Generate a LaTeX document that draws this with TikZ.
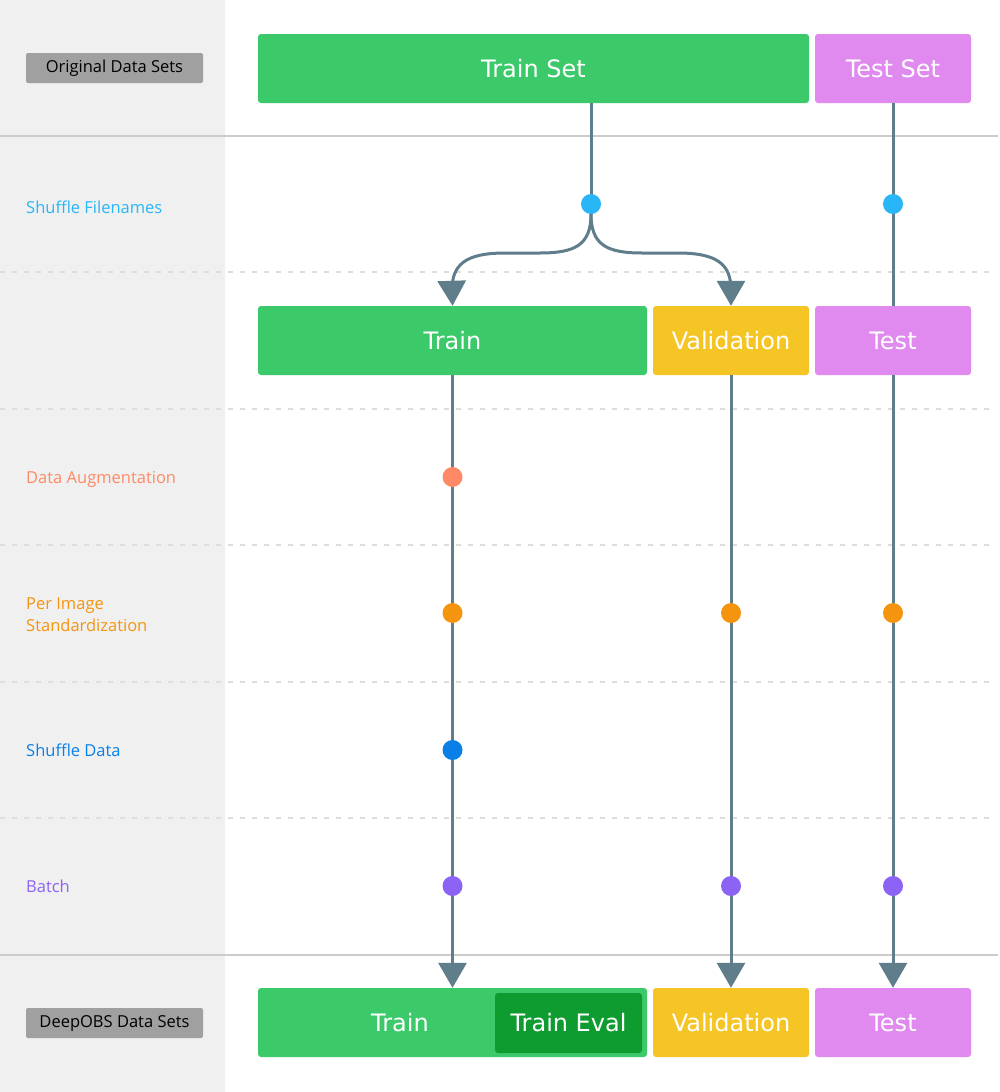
\documentclass[tikz,border=0pt]{standalone}
\usepackage{fontspec}
\setmainfont{DejaVu Sans}
\newfontfamily\labelfont{Open Sans}
\usetikzlibrary{arrows.meta}

\definecolor{setgreen}{HTML}{3CC96A}
\definecolor{evalgreen}{HTML}{0E9C30}
\definecolor{setpink}{HTML}{E08AF0}
\definecolor{setyellow}{HTML}{F5C425}
\definecolor{flowgray}{HTML}{607D8B}
\definecolor{panelgray}{HTML}{F0F0F0}
\definecolor{taggray}{HTML}{A0A0A0}
\definecolor{rulegray}{HTML}{CCCCCC}
\definecolor{dashgray}{HTML}{DDDDDD}
\definecolor{cshuffle}{HTML}{29B6F6}
\definecolor{caugment}{HTML}{FF8A65}
\definecolor{cstandard}{HTML}{F5940F}
\definecolor{cshuffledata}{HTML}{0A7FE8}
\definecolor{cbatch}{HTML}{8C63F5}

\tikzset{
  setbox/.style={rounded corners=3pt, minimum height=69pt, inner sep=0pt,
    text=white, font=\fontsize{24}{28}\selectfont},
  tagbox/.style={fill=taggray, rounded corners=2pt, minimum width=177pt,
    minimum height=30pt, inner sep=0pt, font=\labelfont\fontsize{16.5}{20}\selectfont},
  steplabel/.style={anchor=west, inner sep=0pt, align=left,
    font=\labelfont\fontsize{16.5}{22}\selectfont},
  flow/.style={draw=flowgray, line width=3pt},
  flowarrow/.style={flow, -{Triangle[width=28pt,length=25pt]}},
  stepdot/.style={circle, minimum size=20pt, inner sep=0pt},
  rowrule/.style={draw=rulegray, line width=1.5pt},
  rowdash/.style={draw=dashgray, line width=1.5pt, dash pattern=on 5pt off 7pt}
}

\begin{document}
\begin{tikzpicture}[x=1pt, y=-1pt]

	% --- BACKGROUND ---
	\useasboundingbox (0,0) rectangle (1000,1092);
	\fill[white] (0,0) rectangle (1000,1092);
	\fill[panelgray] (0,0) rectangle (225,1092);

	% --- ROW SEPARATORS ---
	\draw[rowrule] (0,136) -- (998,136);
	\foreach \y in {272, 409, 545, 682, 818}
		\draw[rowdash] (0,\y) -- (996,\y);
	\draw[rowrule] (0,955) -- (998,955);

	% --- ROW LABELS ---
	\node[tagbox] (orig) at (114.5,68) {Original Data Sets};
	\node[steplabel, text=cshuffle] (lshuffle) at (26,207) {Shuffle Filenames};
	\node[steplabel, text=caugment] (laugment) at (26,479) {Data Augmentation};
	\node[steplabel, text=cstandard] (lstandard) at (26,615) {Per Image\\Standardization};
	\node[steplabel, text=cshuffledata] (lshuffledata) at (26,750) {Shuffle Data};
	\node[steplabel, text=cbatch] (lbatch) at (26,886) {Batch};
	\node[tagbox] (deepobs) at (114.5,1023) {DeepOBS Data Sets};

	% --- DATA SETS ---
	\node[setbox, fill=setgreen, minimum width=551pt] (trainset) at (533.5,68.5) {Train Set};
	\node[setbox, fill=setpink, minimum width=156pt] (testset) at (893,68.5) {Test Set};

	\node[setbox, fill=setgreen, minimum width=389pt] (train) at (452.5,340.5) {Train};
	\node[setbox, fill=setyellow, minimum width=156pt] (valid) at (731,340.5) {Validation};
	\node[setbox, fill=setpink, minimum width=156pt] (test) at (893,340.5) {Test};

	\node[setbox, fill=setgreen, minimum width=389pt] (dtrain) at (452.5,1022.5) {};
	\node[setbox, text=white] (dtrainlabel) at (400,1022.5) {Train};
	\node[setbox, fill=evalgreen, minimum width=147pt, minimum height=60pt] (deval) at (568.5,1023) {Train Eval};
	\node[setbox, fill=setyellow, minimum width=156pt] (dvalid) at (731,1022.5) {Validation};
	\node[setbox, fill=setpink, minimum width=156pt] (dtest) at (893,1022.5) {Test};

	% --- FLOW ---
	\coordinate (split) at (591,204);
	\draw[flow] (trainset.south -| split) -- (split);
	\draw[flowarrow] (split) -- (591,214) .. controls (591,245) and (575,253) .. (540,253)
		-- (505,253) .. controls (465,253) and (452,265) .. (452,290) -- (train.north);
	\draw[flowarrow] (split) -- (591,214) .. controls (591,245) and (607,253) .. (642,253)
		-- (678,253) .. controls (718,253) and (731,265) .. (731,290) -- (valid.north);
	\draw[flow] (testset.south) -- (test.north);

	\draw[flowarrow] (train.south) -- (dtrain.north);
	\draw[flowarrow] (valid.south) -- (dvalid.north);
	\draw[flowarrow] (test.south) -- (dtest.north);

	% --- PROCESSING STEPS ---
	\node[stepdot, fill=cshuffle] (shtrain) at (split) {};
	\node[stepdot, fill=cshuffle] (shtest) at (893,204) {};
	\node[stepdot, fill=caugment] (augtrain) at (452.5,477) {};
	\foreach \x/\n in {452.5/train, 731/valid, 893/test} {
		\node[stepdot, fill=cstandard] (std\n) at (\x,613) {};
		\node[stepdot, fill=cbatch] (batch\n) at (\x,886) {};
	}
	\node[stepdot, fill=cshuffledata] (shdtrain) at (452.5,750) {};

\end{tikzpicture}
\end{document}
